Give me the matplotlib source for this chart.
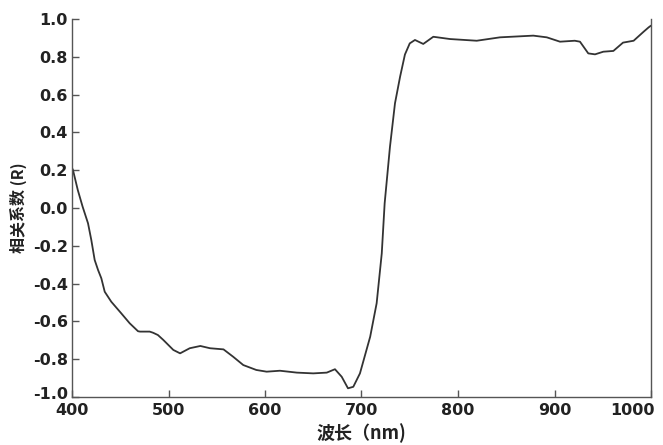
import matplotlib
matplotlib.use("Agg")
import matplotlib.pyplot as plt
import matplotlib.transforms as mtransforms

plt.rcParams['font.family'] = ['DejaVu Sans']

wavelength = [400, 401, 406, 411, 416.6, 420, 423.5, 427, 430.4, 433.9, 440.7, 451, 459.8,
              468.4, 470.5, 480.5, 484, 489, 494.6, 505, 512, 522, 533, 543, 557, 567,
              577.5, 591, 601.7, 615.5, 633, 650, 664, 672.5, 679.5, 686, 691.5, 698.4,
              709, 715.7, 721, 724, 729.5, 734.7, 740, 745, 750, 755.4, 764, 774.4,
              791.7, 819.4, 843.5, 878, 892, 905.7, 921, 926.4, 935, 942, 950.6, 961,
              971, 982, 992.4, 997.6, 1000]
correlation = [0.212, 0.201, 0.095, 0.007, -0.081, -0.169, -0.275, -0.328, -0.372, -0.443,
               -0.496, -0.557, -0.61, -0.652, -0.654, -0.654, -0.66, -0.672, -0.698, -0.751,
               -0.769, -0.742, -0.730, -0.742, -0.748, -0.787, -0.831, -0.857, -0.866,
               -0.861, -0.871, -0.875, -0.871, -0.853, -0.893, -0.954, -0.946, -0.875,
               -0.681, -0.504, -0.240, 0.025, 0.324, 0.554, 0.695, 0.812, 0.871, 0.889,
               0.868, 0.906, 0.894, 0.885, 0.903, 0.912, 0.903, 0.88, 0.885, 0.88,
               0.818, 0.813, 0.827, 0.831, 0.875, 0.885, 0.933, 0.956, 0.965]

x_ticks = [400, 500, 600, 700, 800, 900, 1000]
y_ticks = [1.0, 0.8, 0.6, 0.4, 0.2, 0.0, -0.2, -0.4, -0.6, -0.8, -1.0]
y_ticklabels = ['1.0', '0.8', '0.6', '0.4', '0.2', '0.0', '-0.2', '-0.4', '-0.6', '-0.8', '-1.0']
x_label = '波长（nm)'
y_label = '相关系数 (R)'

fig = plt.figure(figsize=(6.63, 4.45), dpi=100)
ax = fig.add_axes([72/663, 1-397/445, 579/663, 378/445])

ax.plot(wavelength, correlation, color='#333333', lw=1.3,
        solid_joinstyle='round', solid_capstyle='round')

ax.set_xlim(400, 1000)
ax.set_ylim(-1.0, 1.0)
ax.set_xticks(x_ticks)
ax.set_yticks(y_ticks)
ax.set_yticklabels(y_ticklabels)

for s in ['left', 'bottom', 'right']:
    ax.spines[s].set_color('#555555')
    ax.spines[s].set_linewidth(1.0)
ax.spines['top'].set_visible(False)

ax.tick_params(direction='in', length=5, width=1, color='#555555',
               labelsize=11.5, labelcolor='#222222')
ax.tick_params(axis='x', pad=4)
ax.tick_params(axis='y', pad=3)
for lab in ax.get_xticklabels() + ax.get_yticklabels():
    lab.set_fontweight('bold')

xlabs = ax.get_xticklabels()
xlabs[-1].set_horizontalalignment('right')
xlabs[-1].set_transform(xlabs[-1].get_transform() +
                        mtransforms.ScaledTranslation(4/100, 0, fig.dpi_scale_trans))
ylabs = ax.get_yticklabels()
ylabs[-1].set_transform(ylabs[-1].get_transform() +
                        mtransforms.ScaledTranslation(0, 4/100, fig.dpi_scale_trans))

ax.set_xlabel(x_label, family=['Noto Sans CJK SC', 'DejaVu Sans'], fontsize=13,
              color='#222222', labelpad=4, fontweight='bold')
ax.set_ylabel(y_label, family=['Noto Sans CJK SC', 'DejaVu Sans'], fontsize=11.5,
              color='#222222', labelpad=4, fontweight='bold')

fig.savefig('out.png', dpi=100)
